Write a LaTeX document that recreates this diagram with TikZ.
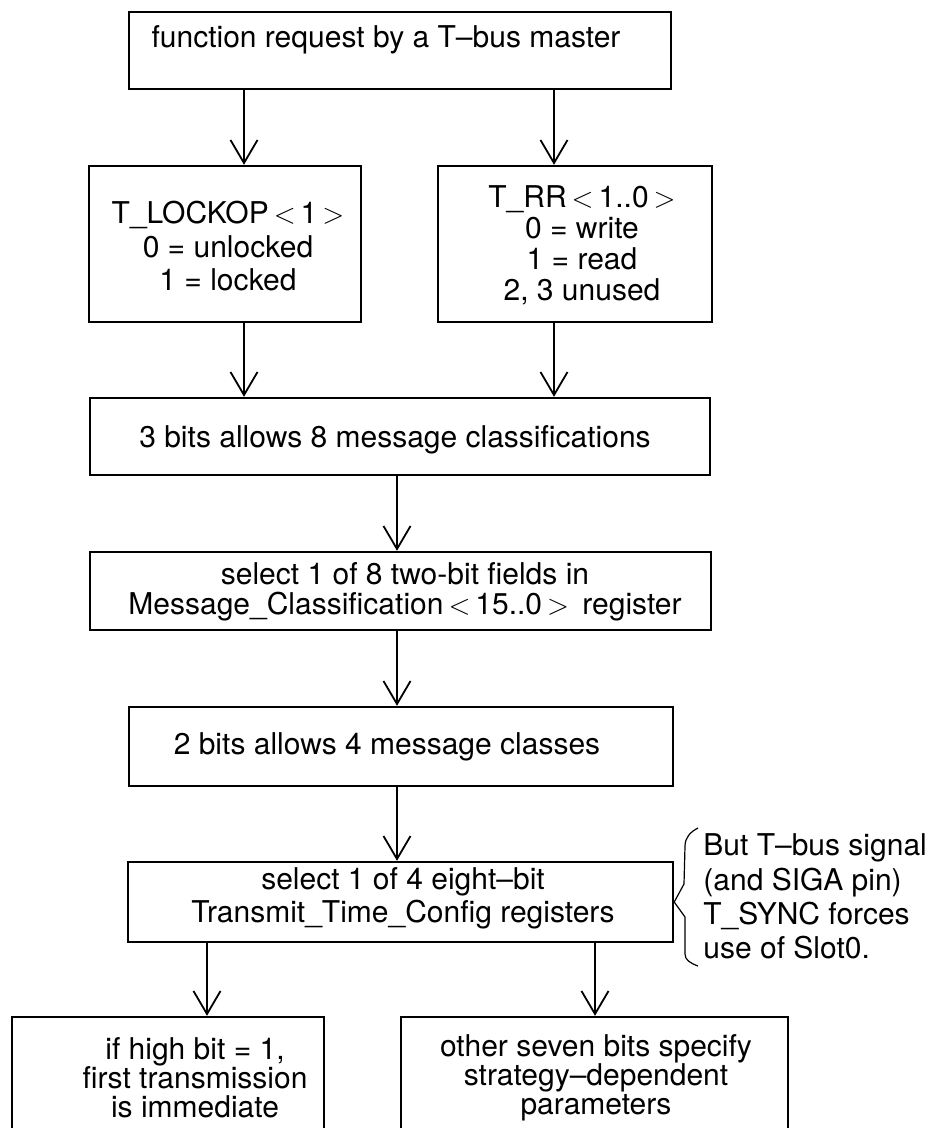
\documentclass[tikz,border=0pt]{standalone}
\usepackage{fontspec}
\setmainfont{TeX Gyre Heros}
\usetikzlibrary{arrows.meta}
\begin{document}
\begin{tikzpicture}[x=0.5pt,y=-0.5pt,
  box/.style={draw, line width=1.2pt, inner sep=0pt},
  txt/.style={align=center, inner sep=0pt, font=\fontsize{15pt}{#1}\selectfont},
  txt/.default={16.5pt},
  arr/.style={line width=0.9pt, -{Straight Barb[length=11.5pt,width=13.5pt,line width=0.9pt]}},
  bracel/.style={line width=0.6pt, line join=round}]
\clip (0,0) rectangle (926,1128);
% boxes
\node[box, minimum width=271pt, minimum height=38.5pt] (b1) at (400,50.5) {};
\node[box, minimum width=136pt, minimum height=78pt] (b2) at (225,244) {};
\node[box, minimum width=137pt, minimum height=78pt] (b3) at (575,244) {};
\node[box, minimum width=310pt, minimum height=38.5pt] (b4) at (400,436.5) {};
\node[box, minimum width=310.5pt, minimum height=39pt] (b5) at (400.5,591) {};
\node[box, minimum width=272pt, minimum height=39.5pt] (b6) at (401,746.5) {};
\node[box, minimum width=272.5pt, minimum height=40pt] (b7) at (400.5,902) {};
\node[box, minimum width=156pt, minimum height=61.5pt] (b8) at (168,1078.5) {};
\node[box, minimum width=193.5pt, minimum height=61.5pt] (b9) at (594.5,1078.5) {};
% texts
\node[txt] (t1) at (386,40) {function request by a T–bus master};
\node[txt=16.75pt] (t2) at (228,246.5) {T\_LOCKOP\,$<$\,1\,$>$\\0 = unlocked\\1 = locked};
\node[txt=15.5pt] (t3) at (582,245.5) {T\_RR\,$<$\,1..0\,$>$\\0 = write\\1 = read\\2, 3 unused};
\node[txt] (t4) at (395,440) {3 bits allows 8 message classifications};
\node[txt=15pt] (t5) at (405,592) {select 1 of 8 two-bit fields in\\Message\_Classification\,$<$\,15..0\,$>$\, register};
\node[txt] (t6) at (387,747) {2 bits allows 4 message classes};
\node[txt=16.5pt] (t7) at (403,898.5) {select 1 of 4 eight–bit\\Transmit\_Time\_Config registers};
\node[txt=14.5pt] (t8) at (195,1078) {if high bit = 1,\\first transmission\\is immediate};
\node[txt=14.5pt] (t9) at (596,1078) {other seven bits specify\\strategy–dependent\\parameters};
\node[txt=17.15pt, align=left, anchor=west] (tn) at (703,896.5) {But T–bus signal\\(and SIGA pin)\\T\_SYNC forces\\use of Slot0.};
% arrow columns
\coordinate (xl) at (244,0);
\coordinate (xr) at (554,0);
\coordinate (xm) at (397,0);
\coordinate (xa) at (207,0);
\coordinate (xb) at (595,0);
\draw[arr] (b1.south -| xl) -- (b2.north -| xl);
\draw[arr] (b1.south -| xr) -- (b3.north -| xr);
\draw[arr] (b2.south -| xl) -- (b4.north -| xl);
\draw[arr] (b3.south -| xr) -- (b4.north -| xr);
\draw[arr] (b4.south -| xm) -- (b5.north -| xm);
\draw[arr] (b5.south -| xm) -- (b6.north -| xm);
\draw[arr] (b6.south -| xm) -- (b7.north -| xm);
\draw[arr] (b7.south -| xa) -- (b8.north -| xa);
\draw[arr] (b7.south -| xb) -- (b9.north -| xb);
% brace
\draw[bracel] (698,828) .. controls (690,832) and (685,838) .. (685,846) -- (684,884) -- (b7.east) -- (685,917) -- (685,954) .. controls (685,960) and (690,963) .. (698,966);
\end{tikzpicture}
\end{document}
